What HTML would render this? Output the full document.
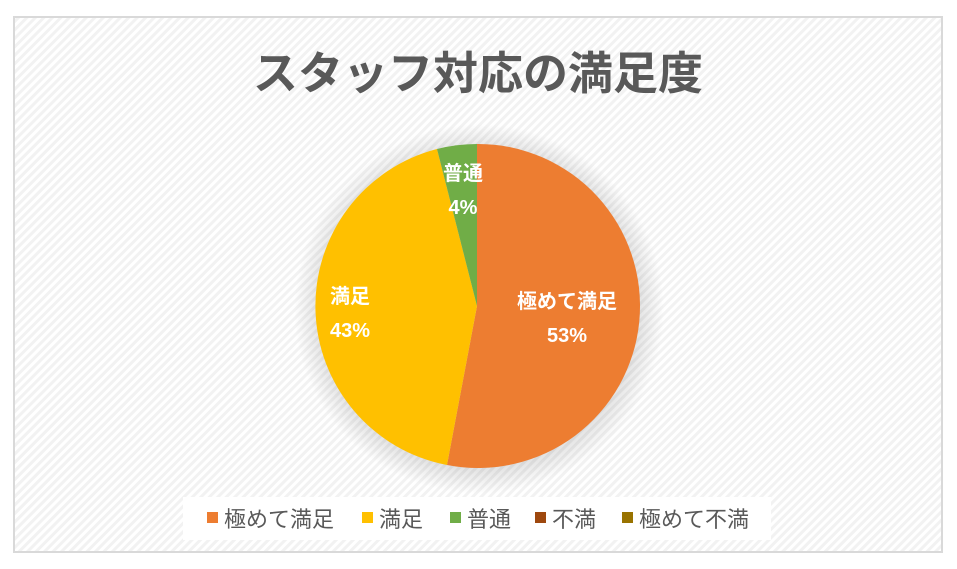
<!DOCTYPE html>
<html><head><meta charset="utf-8"><style>
body{margin:0;width:957px;height:569px;background:#fff;overflow:hidden;font-family:"Liberation Sans","Noto Sans CJK JP",sans-serif;}
</style></head><body>
<svg width="957" height="569" xmlns="http://www.w3.org/2000/svg" style="position:absolute;left:0;top:0">
<defs>
<pattern id="h" width="6" height="6" patternUnits="userSpaceOnUse" patternTransform="rotate(45)">
<rect width="6" height="6" fill="#fff"/><rect width="3" height="6" fill="#f2f2f2"/>
</pattern>
<radialGradient id="sh" cx="0.5" cy="0.5" r="0.5">
<stop offset="0.85" stop-color="#000" stop-opacity="0.12"/>
<stop offset="1" stop-color="#000" stop-opacity="0"/>
</radialGradient>
</defs>
<rect x="14" y="17" width="928" height="535" fill="url(#h)" stroke="#d9d9d9" stroke-width="2"/>
<text x="478" y="89" text-anchor="middle" font-size="45" font-weight="bold" fill="#595959" font-family="Liberation Sans,Noto Sans CJK JP,sans-serif">スタッフ対応の満足度</text>
<circle cx="479" cy="309" r="185" fill="url(#sh)"/>
<path d="M477,306 L477,144 A162,162 0 1,1 447,465 Z" fill="#ed7d31"/>
<path d="M477,306 L447,465 A162,162 0 0,1 437,149 Z" fill="#ffc000"/>
<path d="M477,306 L437,149 A162,162 0 0,1 477,144 Z" fill="#70ad47"/>
<g font-weight="bold" fill="#fff" font-size="20" text-anchor="middle">
<text x="567" y="308">極めて満足</text><text x="567" y="342">53%</text>
<text x="350" y="303">満足</text><text x="350" y="337">43%</text>
<text x="463" y="180">普通</text><text x="463" y="214">4%</text>
</g>
<rect x="183" y="497" width="588" height="43" fill="#fff"/>
<g font-size="22" fill="#595959">
<rect x="207" y="512" width="11" height="11" fill="#ed7d31"/><text x="224" y="527">極めて満足</text>
<rect x="362" y="512" width="11" height="11" fill="#ffc000"/><text x="379" y="527">満足</text>
<rect x="450" y="512" width="11" height="11" fill="#70ad47"/><text x="467" y="527">普通</text>
<rect x="535" y="512" width="11" height="11" fill="#9e480e"/><text x="552" y="527">不満</text>
<rect x="622" y="512" width="11" height="11" fill="#997300"/><text x="639" y="527">極めて不満</text>
</g>
</svg>
</body></html>
